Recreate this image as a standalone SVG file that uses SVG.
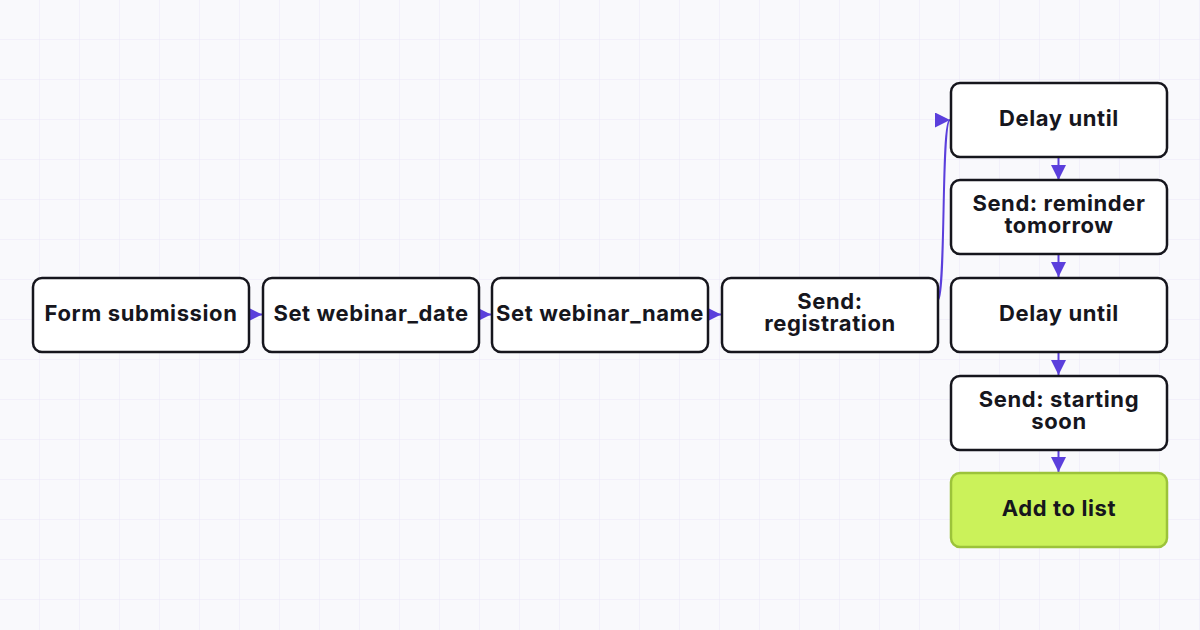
<svg xmlns="http://www.w3.org/2000/svg" width="1200" height="630" viewBox="0 0 1200 630">
<defs>
<pattern id="grid" width="40" height="40" patternUnits="userSpaceOnUse"><path d="M40 0V40M0 40H40" fill="none" stroke="#ebe7f8" stroke-width="1"/></pattern>
<marker id="ah" viewBox="0 0 10 10" refX="10" refY="5" markerWidth="15" markerHeight="15" markerUnits="userSpaceOnUse" orient="auto"><path d="M0 0L10 5L0 10z" fill="#5b3fdc"/></marker>
</defs>
<style>
.n rect{fill:#fff;stroke:#16161d;stroke-width:2.5}
.n.g rect{fill:#cbf25a;stroke:#9cc33a}
.n text{font-family:Inter,"Liberation Sans",sans-serif;font-weight:700;font-size:22px;letter-spacing:0.6px;fill:#16161d;text-anchor:middle}
#conn path{fill:none;stroke:#5b3fdc;stroke-width:2;marker-end:url(#ah)}
</style>
<rect width="1200" height="630" fill="#f9f9fc"/>
<rect width="1200" height="630" fill="url(#grid)"/>
<g id="conn">
<path d="M249 314.5H262"/>
<path d="M479 314.5H491"/>
<path d="M708 314.5H721"/>
<path d="M938 300C946 290 941 120 950 120"/>
<path d="M1058.5 157V180"/>
<path d="M1058.5 254V277"/>
<path d="M1058.5 352V375"/>
<path d="M1058.5 450V472"/>
</g>
<g id="n1" class="n"><rect x="33" y="278" width="216" height="74" rx="9"/><text x="141" y="321">Form submission</text></g>
<g id="n2" class="n"><rect x="263" y="278" width="216" height="74" rx="9"/><text x="371" y="321">Set webinar_date</text></g>
<g id="n3" class="n"><rect x="492" y="278" width="216" height="74" rx="9"/><text x="600" y="321">Set webinar_name</text></g>
<g id="n4" class="n"><rect x="722" y="278" width="216" height="74" rx="9"/><text x="830" y="309">Send:</text><text x="830" y="331">registration</text></g>
<g id="n5" class="n"><rect x="951" y="83" width="216" height="74" rx="9"/><text x="1059" y="126">Delay until</text></g>
<g id="n6" class="n"><rect x="951" y="180" width="216" height="74" rx="9"/><text x="1059" y="211">Send: reminder</text><text x="1059" y="233">tomorrow</text></g>
<g id="n7" class="n"><rect x="951" y="278" width="216" height="74" rx="9"/><text x="1059" y="321">Delay until</text></g>
<g id="n8" class="n"><rect x="951" y="376" width="216" height="74" rx="9"/><text x="1059" y="407">Send: starting</text><text x="1059" y="429">soon</text></g>
<g id="n9" class="n g"><rect x="951" y="473" width="216" height="74" rx="9"/><text x="1059" y="516">Add to list</text></g>
</svg>
